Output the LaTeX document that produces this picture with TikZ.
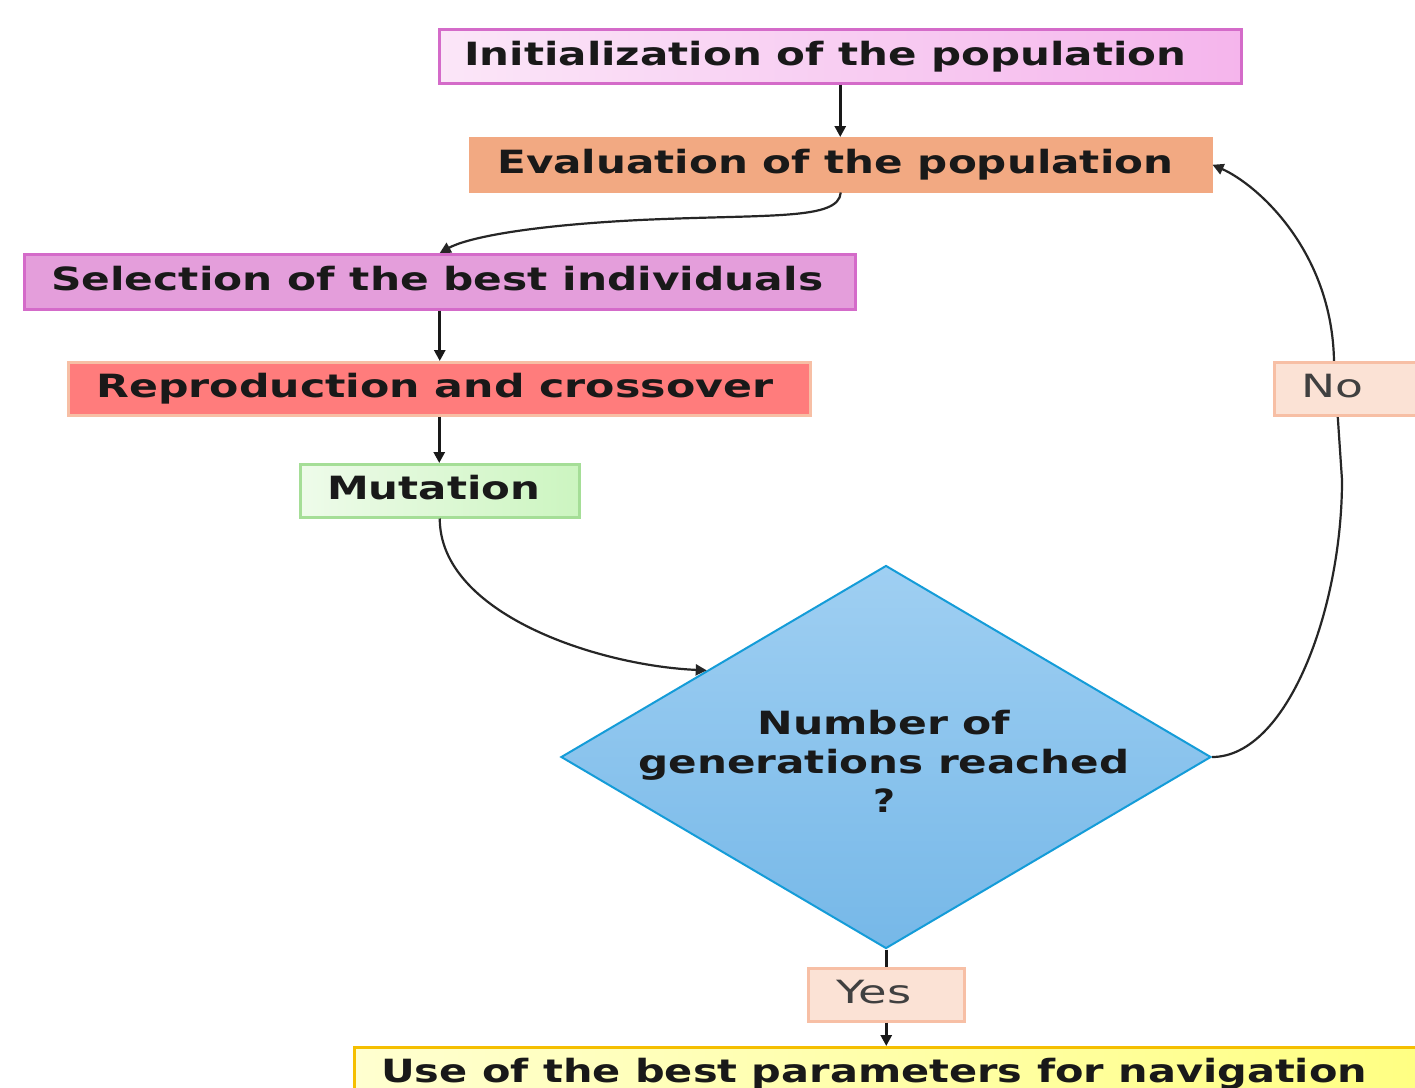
\documentclass[tikz,border=0pt]{standalone}
\usepackage{fontspec}
\setmainfont{DejaVu Sans}
\usetikzlibrary{arrows.meta,shapes.geometric,calc}
\newcommand\wt[2]{\resizebox{#1}{\height}{#2}}
\newcommand\bx[4]{\makebox[#1][l]{\hspace*{#2}\wt{#3}{#4}\vphantom{Ap}}}
\definecolor{initL}{HTML}{FBE6F8}
\definecolor{initR}{HTML}{F5B5EC}
\definecolor{pinkB}{HTML}{D46BC9}
\definecolor{evalF}{HTML}{F2A982}
\definecolor{selF}{HTML}{E49EDB}
\definecolor{repF}{HTML}{FF7C7C}
\definecolor{peachB}{HTML}{F7BFA5}
\definecolor{mutL}{HTML}{EEFBEA}
\definecolor{mutR}{HTML}{CCF5C0}
\definecolor{mutB}{HTML}{A5DE97}
\definecolor{diaT}{HTML}{9FCFF2}
\definecolor{diaBot}{HTML}{76B8E8}
\definecolor{diaB}{HTML}{149CD8}
\definecolor{labF}{HTML}{FBE2D5}
\definecolor{useL}{HTML}{FFFFD0}
\definecolor{useR}{HTML}{FFFF80}
\definecolor{useB}{HTML}{F5BF00}
\begin{document}
\begin{tikzpicture}[x=1pt,y=-1pt,
  box/.style={draw, line width=2.5pt, inner sep=0pt, anchor=north west,
    font=\fontsize{32}{37}\selectfont\bfseries, text=black!90},
  lab/.style={draw=peachB, fill=labF, line width=2.5pt, inner sep=0pt, anchor=north west,
    font=\fontsize{32}{37}\selectfont, text=black!75},
  conn/.style={line width=3pt, draw=black!90, -{Triangle[length=11pt,width=11pt]}},
  plain/.style={line width=3pt, draw=black!90},
  curv/.style={line width=2.2pt, draw=black!85, -{Triangle[length=11pt,width=11pt]}}]
\clip (0,0) rectangle (1415,1087);
\fill[white] (0,0) rectangle (1415,1087);

\coordinate (nA) at (1342,480);
\coordinate (nB) at (1334,361);

\node[box, draw=pinkB, left color=initL, right color=initR, minimum height=54pt] (init) at (438,28)
  {\bx{802pt}{25pt}{722pt}{Initialization of the population}};
\node[box, draw=evalF, fill=evalF, minimum height=53pt] (eval) at (469,137)
  {\bx{741pt}{27pt}{676pt}{Evaluation of the population}};
\node[box, draw=pinkB, fill=selF, minimum height=55pt] (sel) at (23,253)
  {\bx{831pt}{27pt}{772pt}{Selection of the best individuals}};
\node[box, draw=peachB, fill=repF, minimum height=53pt] (rep) at (67,361)
  {\bx{742pt}{28pt}{677pt}{Reproduction and crossover}};
\node[box, draw=mutB, left color=mutL, right color=mutR, minimum height=53pt] (mut) at (299,463)
  {\bx{279pt}{27pt}{213pt}{Mutation}};

\node[diamond, draw=diaB, line width=2pt, top color=diaT, bottom color=diaBot,
  minimum width=650pt, minimum height=383pt, aspect=1.7, inner sep=0pt] (dia) at (886,757) {};
\node[font=\fontsize{32}{39}\selectfont\bfseries, text=black!90, align=center] (dtext) at (884,761)
  {\wt{253pt}{Number of}\\\wt{491pt}{generations reached}\\\wt{22pt}{?}};

\coordinate (dentry) at ($(dia.west)!0.45!(dia.north)$);

\draw[curv] (eval.south) .. controls +(-2,28) and +(130,-6) .. (640,220)
  .. controls +(-120,6) and +(25,-14) .. (sel.north);
\draw[conn] (init.south) -- (init.south |- eval.north);
\draw[conn] (sel.south) -- (sel.south |- rep.north);
\draw[conn] (rep.south) -- (rep.south |- mut.north);
\draw[curv] (mut.south) .. controls +(0,95) and +(-110,-5) .. (dentry);
\draw[curv] (dia.east) .. controls +(75,0) and +(0,130) .. (nA) -- (nB)
  .. controls +(-2,-110) and +(45,20) .. (eval.east);

\node[lab, minimum height=53pt] (no) at (1273,361)
  {\bx{170pt}{27pt}{62pt}{No}};
\node[lab, minimum height=53pt] (yes) at (807,967)
  {\bx{156pt}{28pt}{75pt}{Yes}};
\node[box, draw=useB, left color=useL, right color=useR, minimum height=53pt] (use) at (353,1046)
  {\bx{1100pt}{27pt}{986pt}{Use of the best parameters for navigation}};

\draw[plain] (dia.south) -- (dia.south |- yes.north);
\draw[conn] (yes.south) -- (yes.south |- use.north);
\end{tikzpicture}
\end{document}
